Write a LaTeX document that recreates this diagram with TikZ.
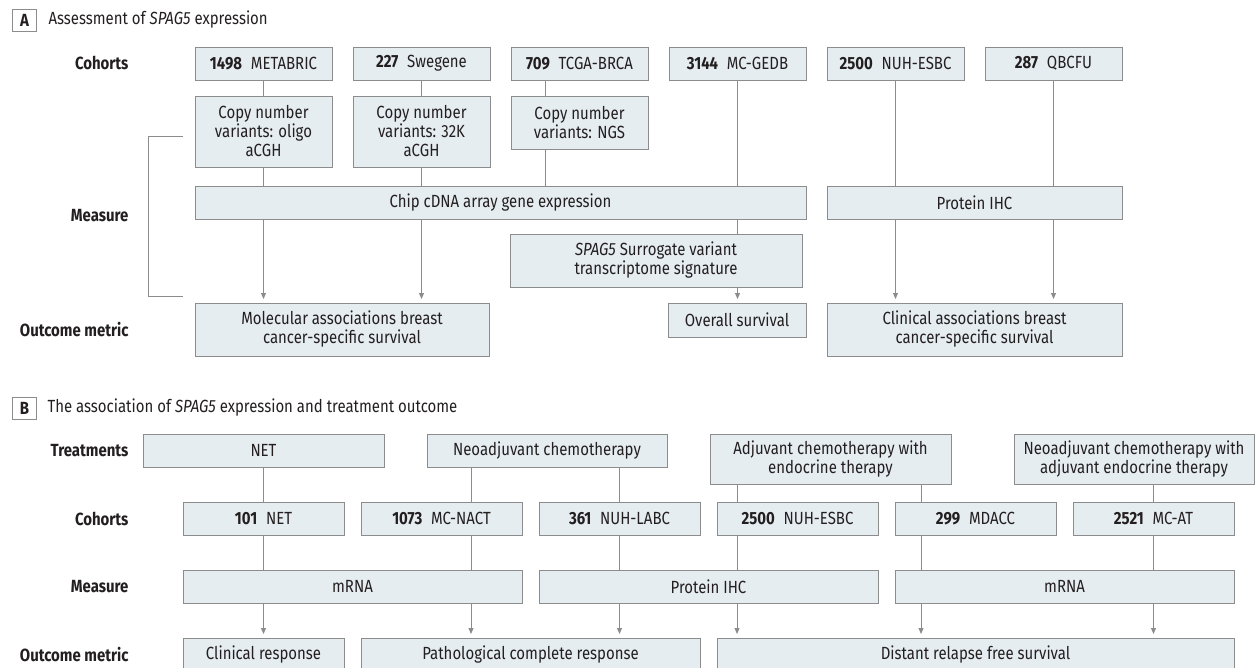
\documentclass[tikz,border=0pt]{standalone}
\usepackage{fontspec}
\setmainfont[FakeStretch=0.85]{Fira Sans}
\usepackage{xcolor}
\usepackage{tikz}
\usetikzlibrary{arrows.meta,positioning}
\definecolor{ink}{HTML}{231F20}
\definecolor{edge}{HTML}{8C8C8C}
\definecolor{pale}{HTML}{E6EDF1}
\newcommand\figfont{\fontsize{17.6}{19}\selectfont}

\begin{document}
\begin{tikzpicture}[
  x=1pt,y=-1pt,
  node distance=21pt,
  box/.style={draw=edge,line width=1pt,fill=pale,align=center,inner sep=0pt,outer sep=0pt,anchor=north west,minimum height=33pt,font=\figfont,text=ink},
  tag/.style={draw=edge,line width=1pt,fill=white,inner sep=0pt,anchor=north west,minimum width=24pt,minimum height=22pt,font=\figfont\bfseries,text=ink},
  lbl/.style={anchor=east,font=\figfont\bfseries,text=ink},
  link/.style={draw=edge,line width=1pt},
  arr/.style={-{Triangle[length=6pt,width=5pt]},draw=edge,fill=edge,line width=1pt,shorten >=4pt}
]
\useasboundingbox (0,0) rectangle (1256,667);
% panel A
\node[tag] (tagA) at (12,9) {A};
\node[anchor=west,font=\figfont,text=ink] (titA) at (45,20) {Assessment of \textit{SPAG5} expression};
\node[lbl] (lA1) at (132,63) {Cohorts};
\node[lbl] (lA2) at (132,216) {Measure};
\node[lbl] (lA3) at (132,330) {Outcome metric};
\node[box,minimum width=137pt] (coA1) at (195,47) {\textbf{1498}\enspace METABRIC};
\node[box,minimum width=137pt,right=of coA1] (coA2) {\textbf{227}\enspace Swegene};
\node[box,minimum width=137pt,right=of coA2] (coA3) {\textbf{709}\enspace TCGA-BRCA};
\node[box,minimum width=137pt,right=of coA3] (coA4) {\textbf{3144}\enspace MC-GEDB};
\node[box,minimum width=137pt,right=of coA4] (coA5) {\textbf{2500}\enspace NUH-ESBC};
\node[box,minimum width=137pt,right=of coA5] (coA6) {\textbf{287}\enspace QBCFU};
\node[box,minimum width=137pt,minimum height=71pt] (cnA1) at (195,96) {Copy number\\variants: oligo\\aCGH};
\node[box,minimum width=137pt,minimum height=71pt] (cnA2) at (353,96) {Copy number\\variants: 32K\\aCGH};
\node[box,minimum width=137pt,minimum height=53pt] (cnA3) at (511,96) {Copy number\\variants: NGS};
\node[box,minimum width=611pt] (chip) at (195,186) {Chip cDNA array gene expression};
\node[box,minimum width=295pt] (ihcA) at (827,186) {Protein IHC};
\node[box,minimum width=292pt,minimum height=53pt] (surr) at (510,234) {\textit{SPAG5} Surrogate variant\\transcriptome signature};
\node[box,minimum width=294pt,minimum height=53pt] (molec) at (195,303) {Molecular associations breast\\cancer-specific survival};
\node[box,minimum width=138pt,minimum height=34pt] (osurv) at (668,303) {Overall survival};
\node[box,minimum width=295pt,minimum height=53pt] (clinA) at (827,303) {Clinical associations breast\\cancer-specific survival};
\foreach \u/\v/\x in {coA1/cnA1/263.5,cnA1/chip/263.5,coA2/cnA2/421.5,cnA2/chip/421.5,coA3/cnA3/545,cnA3/chip/545,
  coA4/chip/737.5,chip/surr/737.5,coA5/ihcA/895.5,coA6/ihcA/1053.5} {\draw[link](\u.south -| \x,0)--(\v.north -| \x,0);}
\foreach \u/\v/\x in {chip/molec/263.5,chip/molec/421.5,surr/osurv/737.5,ihcA/clinA/895.5,ihcA/clinA/1053.5} {\draw[arr](\u.south -| \x,0)--(\v.north -| \x,0);}
\draw[link] (183,136) -- (148,136) -- (148,296) -- (183,296);
% panel B
\node[tag] (tagB) at (12,397) {B};
\node[anchor=west,font=\figfont,text=ink] (titB) at (44,408) {The association of \textit{SPAG5} expression and treatment outcome};
\node[lbl] (lB1) at (132,450.5) {Treatments};
\node[lbl] (lB2) at (132,518.5) {Cohorts};
\node[lbl] (lB3) at (132,586.5) {Measure};
\node[lbl] (lB4) at (132,654.5) {Outcome metric};
\node[box,minimum width=241pt] (trB1) at (143,434) {NET};
\node[box,minimum width=240pt] (trB2) at (427,434) {Neoadjuvant chemotherapy};
\node[box,minimum width=241pt,minimum height=50pt] (trB3) at (710,434) {Adjuvant chemotherapy with\\endocrine therapy};
\node[box,minimum width=240pt,minimum height=50pt] (trB4) at (1014,434) {Neoadjuvant chemotherapy with\\adjuvant endocrine therapy};
\node[box,minimum width=161pt] (coB1) at (183,502) {\textbf{101}\enspace NET};
\node[box,minimum width=161pt,right=17pt of coB1] (coB2) {\textbf{1073}\enspace MC-NACT};
\node[box,minimum width=161pt,right=17pt of coB2] (coB3) {\textbf{361}\enspace NUH-LABC};
\node[box,minimum width=161pt,right=17pt of coB3] (coB4) {\textbf{2500}\enspace NUH-ESBC};
\node[box,minimum width=161pt,right=17pt of coB4] (coB5) {\textbf{299}\enspace MDACC};
\node[box,minimum width=161pt,right=17pt of coB5] (coB6) {\textbf{2521}\enspace MC-AT};
\node[box,minimum width=339pt] (meB1) at (183,570) {mRNA};
\node[box,minimum width=339pt] (meB2) at (539,570) {Protein IHC};
\node[box,minimum width=339pt] (meB3) at (895,570) {mRNA};
\node[box,minimum width=161pt] (ouB1) at (183,638) {Clinical response};
\node[box,minimum width=339pt] (ouB2) at (361,638) {Pathological complete response};
\node[box,minimum width=517pt] (ouB3) at (717,638) {Distant relapse free survival};
\foreach \u/\v/\x in {trB1/coB1/263.5,trB2/coB2/471,trB2/coB3/619.5,trB3/coB4/737,trB3/coB5/921,trB4/coB6/1153.5,
  coB1/meB1/263.5,coB2/meB1/471,coB3/meB2/619.5,coB4/meB2/737,coB5/meB3/921,coB6/meB3/1153.5} {\draw[link](\u.south -| \x,0)--(\v.north -| \x,0);}
\foreach \u/\v/\x in {meB1/ouB1/263.5,meB1/ouB2/471,meB2/ouB2/619.5,meB2/ouB3/737,meB3/ouB3/921,meB3/ouB3/1153.5} {\draw[arr](\u.south -| \x,0)--(\v.north -| \x,0);}
\end{tikzpicture}
\end{document}
